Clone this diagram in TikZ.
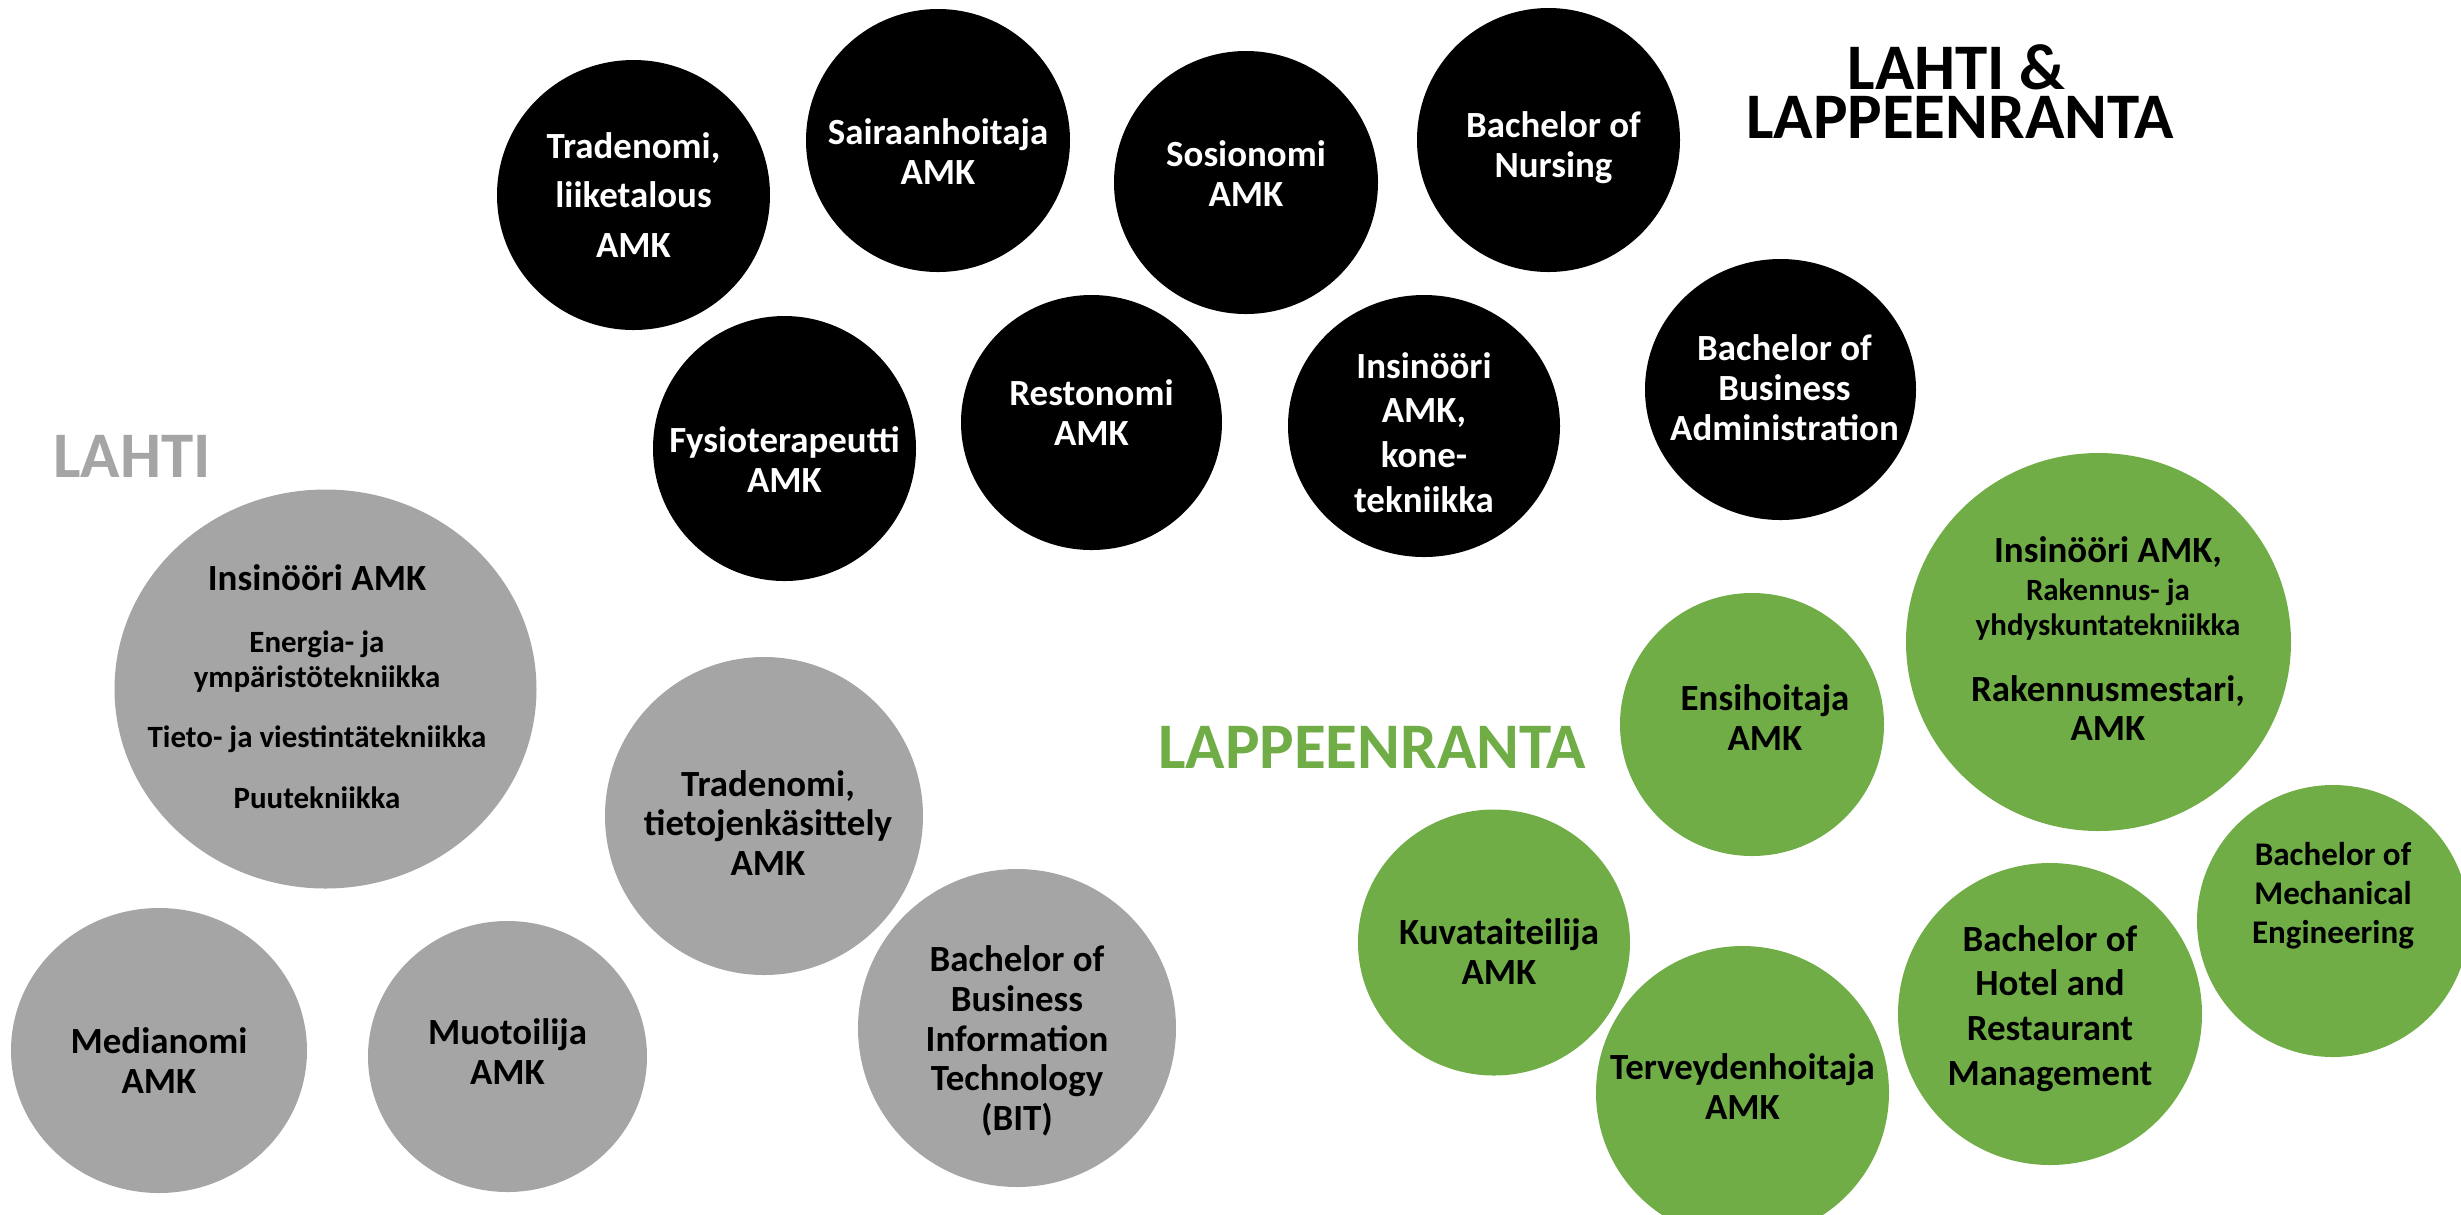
\documentclass[tikz,border=0pt]{standalone}
\usepackage{fontspec}
\setmainfont{Carlito}
\usetikzlibrary{shapes.geometric}
\definecolor{lahtigray}{HTML}{A5A5A5}
\definecolor{lprgreen}{HTML}{70AD47}

\begin{document}
\begin{tikzpicture}
    \tikzstyle{every node}=[font=\fontsize{10.5}{11.3}\selectfont\bfseries]
    \tikzstyle{ball}=[ellipse, inner sep=0pt]
    \tikzstyle{blackball}=[ball, fill=black]
    \tikzstyle{grayball}=[ball, fill=lahtigray]
    \tikzstyle{greenball}=[ball, fill=lprgreen]
    \tikzstyle{txt}=[align=center, inner sep=0pt]
    \tikzstyle{wtxt}=[txt, text=white]
    \tikzstyle{subtxt}=[txt, font=\fontsize{8.8}{10}\selectfont\bfseries]
    \tikzstyle{city}=[align=center, inner sep=0pt, font=\fontsize{18.5}{13.9}\selectfont\bfseries]

    \useasboundingbox (0,0) rectangle (24.61,-12.14);
    \clip (0,0) rectangle (24.61,-12.14);

    % city titles
    \node[city, anchor=base] (bothtop) at (19.565,-0.89) {LAHTI \&};
    \node[city, anchor=base] (bothbottom) at (19.60,-1.384) {LAPPEENRANTA};
    \node[city, text=lahtigray] (lahti) at (1.32,-4.565) {LAHTI};
    \node[city, text=lprgreen] (lpr) at (13.72,-7.47) {LAPPEENRANTA};

    % both campuses
    \node[blackball, minimum width=2.73cm, minimum height=2.70cm] (trade) at (6.335,-1.95) {};
    \node[blackball, minimum width=2.64cm, minimum height=2.63cm] (sairaan) at (9.38,-1.405) {};
    \node[blackball, minimum width=2.64cm, minimum height=2.63cm] (sosio) at (12.46,-1.825) {};
    \node[blackball, minimum width=2.63cm, minimum height=2.64cm] (nursing) at (15.485,-1.40) {};
    \node[blackball, minimum width=2.63cm, minimum height=2.65cm] (fysio) at (7.845,-4.485) {};
    \node[blackball, minimum width=2.61cm, minimum height=2.55cm] (resto) at (10.915,-4.225) {};
    \node[blackball, minimum width=2.72cm, minimum height=2.62cm] (kone) at (14.24,-4.26) {};
    \node[blackball, minimum width=2.71cm, minimum height=2.61cm] (bba) at (17.805,-3.895) {};

    \node[wtxt] (tradetext) at ([yshift=0cm]trade) {Tradenomi,\\[2.7pt]liiketalous\\[2.7pt]AMK};
    \node[wtxt] (sairaantext) at ([yshift=-0.11cm]sairaan) {Sairaanhoitaja\\AMK};
    \node[wtxt] (sosiotext) at ([yshift=0.09cm]sosio) {Sosionomi\\AMK};
    \node[wtxt] (nursingtext) at ([xshift=0.05cm,yshift=-0.075cm]nursing) {Bachelor of\\Nursing};
    \node[wtxt] (fysiotext) at ([yshift=-0.11cm]fysio) {Fysioterapeutti\\AMK};
    \node[wtxt] (restotext) at ([yshift=0.10cm]resto) {Restonomi\\AMK};
    \node[wtxt] (konetext) at ([yshift=-0.065cm]kone) {Insinööri\\[1.45pt]AMK,\\[1.45pt]kone-\\[1.45pt]tekniikka};
    \node[wtxt] (bbatext) at ([xshift=0.04cm,yshift=0.02cm]bba) {Bachelor of\\Business\\Administration};

    % Lahti
    \node[grayball, minimum width=4.22cm, minimum height=3.99cm] (insgray) at (3.255,-6.89) {};
    \node[grayball, minimum width=3.18cm, minimum height=3.18cm] (tieto) at (7.64,-8.16) {};
    \node[grayball, minimum width=3.18cm, minimum height=3.18cm] (bit) at (10.17,-10.28) {};
    \node[grayball, minimum width=2.96cm, minimum height=2.85cm] (media) at (1.59,-10.505) {};
    \node[grayball, minimum width=2.79cm, minimum height=2.71cm] (muoto) at (5.075,-10.565) {};

    \node[subtxt] (insgraytext) at ([xshift=-0.085cm,yshift=0.025cm]insgray)
        {{\fontsize{10.5}{11.3}\selectfont Insinööri AMK}\\[7.6pt]Energia- ja\\ympäristötekniikka\\[7.1pt]Tieto- ja viestintätekniikka\\[7.4pt]Puutekniikka};
    \node[txt] (tietotext) at ([xshift=0.04cm,yshift=-0.07cm]tieto) {Tradenomi,\\tietojenkäsittely\\AMK};
    \node[txt] (bittext) at ([yshift=-0.13cm]bit) {Bachelor of\\Business\\Information\\Technology\\(BIT)};
    \node[txt] (mediatext) at ([yshift=-0.10cm]media) {Medianomi\\AMK};
    \node[txt] (muototext) at ([yshift=0.05cm]muoto) {Muotoilija\\AMK};

    % Lappeenranta
    \node[greenball, minimum width=2.64cm, minimum height=2.63cm] (ensi) at (17.52,-7.245) {};
    \node[greenball, minimum width=3.85cm, minimum height=3.78cm] (insgreen) at (20.985,-6.42) {};
    \node[greenball, minimum width=2.72cm, minimum height=2.66cm] (kuva) at (14.94,-9.425) {};
    \node[greenball, minimum width=2.93cm, minimum height=2.93cm] (terve) at (17.425,-10.925) {};
    \node[greenball, minimum width=3.04cm, minimum height=3.02cm] (hotel) at (20.50,-10.14) {};
    \node[greenball, minimum width=2.72cm, minimum height=2.72cm] (mech) at (23.33,-9.21) {};

    \node[txt] (ensitext) at ([xshift=0.13cm,yshift=0.07cm]ensi) {Ensihoitaja\\AMK};
    \node[subtxt] (insgreentext) at ([xshift=0.095cm,yshift=0.035cm]insgreen)
        {{\fontsize{10.5}{11.3}\selectfont Insinööri AMK,}\\[0.7pt]Rakennus- ja\\yhdyskuntatekniikka\\[8.6pt]{\fontsize{10.5}{11.3}\selectfont Rakennusmestari,}\\[1.1pt]{\fontsize{10.5}{11.3}\selectfont AMK}};
    \node[txt] (kuvatext) at ([xshift=0.05cm,yshift=-0.09cm]kuva) {Kuvataiteilija\\AMK};
    \node[txt] (tervetext) at ([yshift=0.06cm]terve) {Terveydenhoitaja\\AMK};
    \node[txt] (hoteltext) at ([yshift=0.055cm]hotel) {Bachelor of\\[1.45pt]Hotel and\\[1.45pt]Restaurant\\[1.45pt]Management};
    \node[txt, font=\fontsize{9.4}{11.1}\selectfont\bfseries] (mechtext) at ([yshift=0.256cm]mech) {Bachelor of\\Mechanical\\Engineering};
\end{tikzpicture}
\end{document}
